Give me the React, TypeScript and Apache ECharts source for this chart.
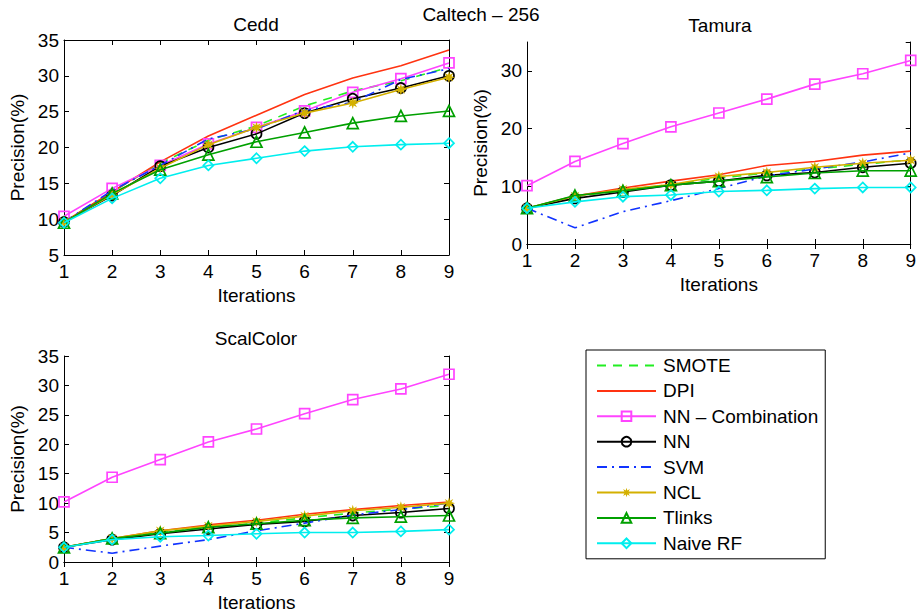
import React, { useEffect, useRef } from "react";
import * as echarts from "echarts";

const iterations = [1, 2, 3, 4, 5, 6, 7, 8, 9];
const seriesNames = ["SMOTE", "DPI", "NN – Combination", "NN", "SVM", "NCL", "Tlinks", "Naive RF"];

const ceddSMOTE = [9.6, 13.8, 17.8, 21.0, 23.0, 25.8, 27.9, 29.3, 31.2];
const ceddDPI = [9.6, 13.8, 18.0, 21.6, 24.5, 27.4, 29.7, 31.4, 33.6];
const ceddNNComb = [10.4, 14.3, 17.5, 20.5, 22.8, 25.1, 27.7, 29.6, 31.8];
const ceddNN = [9.6, 13.3, 17.4, 20.0, 21.9, 24.8, 26.8, 28.3, 30.0];
const ceddSVM = [9.6, 14.0, 17.5, 21.2, 22.6, 25.2, 26.3, 29.5, 31.0];
const ceddNCL = [9.6, 13.4, 17.1, 20.4, 22.8, 24.8, 26.2, 28.1, 29.8];
const ceddTlinks = [9.5, 13.6, 16.9, 19.0, 20.8, 22.1, 23.4, 24.4, 25.1];
const ceddNaiveRF = [9.5, 12.9, 15.7, 17.5, 18.5, 19.5, 20.1, 20.4, 20.6];

const tamuraSMOTE = [6.2, 8.2, 9.3, 10.3, 11.4, 12.3, 13.0, 13.8, 14.6];
const tamuraDPI = [6.2, 8.3, 9.7, 10.9, 12.0, 13.6, 14.3, 15.4, 16.1];
const tamuraNNComb = [10.1, 14.3, 17.4, 20.3, 22.7, 25.1, 27.7, 29.5, 31.8];
const tamuraNN = [6.2, 7.9, 9.0, 10.2, 10.9, 11.9, 12.4, 13.3, 14.0];
const tamuraSVM = [6.2, 2.8, 5.6, 7.5, 9.6, 11.8, 13.0, 14.2, 15.8];
const tamuraNCL = [6.2, 8.3, 9.5, 10.3, 11.7, 12.4, 13.3, 14.0, 14.5];
const tamuraTlinks = [6.2, 8.4, 9.2, 10.2, 10.9, 11.6, 12.3, 12.7, 12.7];
const tamuraNaiveRF = [6.2, 7.3, 8.2, 8.5, 9.1, 9.3, 9.6, 9.8, 9.8];

const scalSMOTE = [2.5, 4.0, 5.0, 5.9, 6.6, 7.5, 8.3, 9.0, 9.6];
const scalDPI = [2.5, 4.0, 5.3, 6.3, 7.1, 8.1, 8.9, 9.6, 10.2];
const scalNNComb = [10.2, 14.4, 17.4, 20.4, 22.6, 25.2, 27.6, 29.4, 31.9];
const scalNN = [2.5, 3.8, 4.8, 5.6, 6.4, 6.9, 7.9, 8.4, 9.1];
const scalSVM = [2.5, 1.5, 2.7, 3.8, 5.3, 6.6, 8.0, 8.9, 10.0];
const scalNCL = [2.5, 4.0, 5.3, 6.1, 6.9, 7.8, 8.7, 9.3, 10.0];
const scalTlinks = [2.5, 4.0, 4.9, 5.9, 6.5, 7.1, 7.5, 7.7, 7.9];
const scalNaiveRF = [2.5, 3.8, 4.3, 4.5, 4.8, 5.0, 5.0, 5.2, 5.5];

const panelTitles = ["Cedd", "Tamura", "ScalColor"];
const panelData = [
  [ceddSMOTE, ceddDPI, ceddNNComb, ceddNN, ceddSVM, ceddNCL, ceddTlinks, ceddNaiveRF],
  [tamuraSMOTE, tamuraDPI, tamuraNNComb, tamuraNN, tamuraSVM, tamuraNCL, tamuraTlinks, tamuraNaiveRF],
  [scalSMOTE, scalDPI, scalNNComb, scalNN, scalSVM, scalNCL, scalTlinks, scalNaiveRF],
];
const yMin = [5, 0, 0];
const yMax = [35, 35, 35];
const yStep = [5, 10, 5];

const FONT = "'Liberation Sans', Arial, Helvetica, sans-serif";
const FS = 19;

function starPath() {
  const pts: string[] = [];
  for (let i = 0; i < 16; i++) {
    const a = (Math.PI * 2 * i) / 16 - Math.PI / 2;
    const r = i % 2 === 0 ? 10 : 4.5;
    pts.push(`${(10 + r * Math.cos(a)).toFixed(2)} ${(10 + r * Math.sin(a)).toFixed(2)}`);
  }
  return "path://M" + pts.join(" L") + " Z";
}

const styles = [
  { color: "#22ee22", type: [9, 7], symbol: "none" },
  { color: "#ff3311", type: "solid", symbol: "none" },
  { color: "#ff44ff", type: "solid", symbol: "rect" },
  { color: "#000000", type: "solid", symbol: "circle" },
  { color: "#1133ff", type: [10, 5, 2, 5], symbol: "none" },
  { color: "#d4b000", type: "solid", symbol: "star" },
  { color: "#00a000", type: "solid", symbol: "triangle" },
  { color: "#00eeee", type: "solid", symbol: "diamond" },
];

const grids = [
  { left: 64, top: 40, width: 385, height: 215 },
  { left: 527, top: 42, width: 386, height: 202 },
  { left: 64, top: 356, width: 385, height: 206 },
];

export default function App() {
  const ref = useRef<HTMLDivElement>(null);
  useEffect(() => {
    document.body.style.margin = "0";
    const chart = echarts.init(ref.current!, null, { renderer: "svg" });
    const star = starPath();
    const xAxes: any[] = [];
    const yAxes: any[] = [];
    const series: any[] = [];
    grids.forEach((g, gi) => {
      const tickStyle = { show: true, inside: true, length: 5, lineStyle: { color: "#000", width: 1 } };
      xAxes.push({
        type: "value", gridIndex: gi, min: 1, max: 9, interval: 1, position: "bottom",
        axisLine: { show: true, lineStyle: { color: "#000", width: 1 } },
        axisTick: tickStyle, splitLine: { show: false },
        axisLabel: { color: "#000", fontSize: FS, fontFamily: FONT, margin: 7 },
        name: "Iterations", nameLocation: "middle", nameGap: 31,
        nameTextStyle: { color: "#000", fontSize: FS, fontFamily: FONT },
      });
      xAxes.push({
        type: "value", gridIndex: gi, min: 1, max: 9, interval: 1, position: "top",
        axisLine: { show: true, lineStyle: { color: "#000", width: 1 } },
        axisTick: tickStyle, splitLine: { show: false }, axisLabel: { show: false },
      });
      yAxes.push({
        type: "value", gridIndex: gi, min: yMin[gi], max: yMax[gi], interval: yStep[gi], position: "left",
        axisLine: { show: true, lineStyle: { color: "#000", width: 1 } },
        axisTick: tickStyle, splitLine: { show: false },
        axisLabel: { color: "#000", fontSize: FS, fontFamily: FONT, margin: 5, showMaxLabel: gi !== 1 },
        name: "Precision(%)", nameLocation: "middle", nameGap: 37, nameRotate: 90,
        nameTextStyle: { color: "#000", fontSize: FS, fontFamily: FONT },
      });
      yAxes.push({
        type: "value", gridIndex: gi, min: yMin[gi], max: yMax[gi], interval: yStep[gi], position: "right",
        axisLine: { show: true, lineStyle: { color: "#000", width: 1 } },
        axisTick: tickStyle, splitLine: { show: false }, axisLabel: { show: false },
      });
      panelData[gi].forEach((vals, si) => {
        const st = styles[si];
        const sym = st.symbol === "star" ? star : st.symbol;
        const hollow = st.symbol !== "none" && st.symbol !== "star";
        series.push({
          type: "line",
          name: seriesNames[si],
          xAxisIndex: gi * 2,
          yAxisIndex: gi * 2,
          data: iterations.map((it, k) => [it, vals[k]]),
          symbol: sym,
          showSymbol: st.symbol !== "none",
          symbolSize: st.symbol === "star" ? 12 : st.symbol === "triangle" ? 11 : 10,
          lineStyle: { color: st.color, width: 1.6, type: st.type },
          itemStyle: hollow
            ? { color: "rgba(255,255,255,0)", borderColor: st.color, borderWidth: 1.7 }
            : { color: st.color, borderColor: st.color, borderWidth: 0, opacity: st.symbol === "none" ? 0 : 1 },
          emphasis: { disabled: true },
          z: 2 + si,
        });
      });
    });

    chart.setOption({
      animation: false,
      backgroundColor: "#fff",
      grid: grids.map((g) => ({ ...g, show: false, containLabel: false })),
      xAxis: xAxes,
      yAxis: yAxes,
      series,
      legend: {
        data: seriesNames.map((n, i) => ({
          name: n,
          itemStyle: styles[i].symbol === "none" ? { opacity: 0 } : undefined,
        })),
        orient: "vertical",
        left: 586,
        top: 350,
        padding: [6, 7, 6, 10],
        itemWidth: 59,
        itemHeight: 12,
        itemGap: 6.4,
        selectedMode: false,
        backgroundColor: "#fff",
        borderColor: "#000",
        borderWidth: 1,
        textStyle: { color: "#000", fontSize: FS, fontFamily: FONT, padding: [0, 0, 0, 2] },
      },
      graphic: [
        { type: "text", x: 481, y: 14, style: { text: "Caltech – 256", font: `${FS}px ${FONT}`, fill: "#000", align: "center", verticalAlign: "middle" } },
        { type: "text", x: 256, y: 24, style: { text: panelTitles[0], font: `${FS}px ${FONT}`, fill: "#000", align: "center", verticalAlign: "middle" } },
        { type: "text", x: 720, y: 25, style: { text: panelTitles[1], font: `${FS}px ${FONT}`, fill: "#000", align: "center", verticalAlign: "middle" } },
        { type: "text", x: 256, y: 338, style: { text: panelTitles[2], font: `${FS}px ${FONT}`, fill: "#000", align: "center", verticalAlign: "middle" } },
      ],
    });
    return () => chart.dispose();
  }, []);
  return <div ref={ref} style={{ width: 919, height: 613 }} />;
}
